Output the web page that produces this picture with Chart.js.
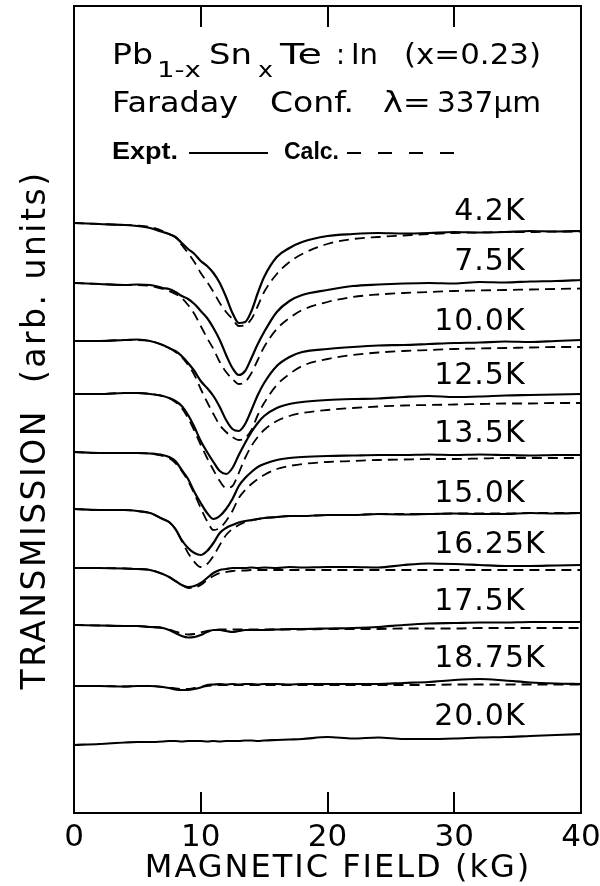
<!DOCTYPE html>
<html>
<head>
<meta charset="utf-8">
<title>Pb1-xSnxTe:In transmission vs magnetic field</title>
<script src="https://cdn.jsdelivr.net/npm/chart.js@4/dist/chart.umd.min.js"></script>
<style>
  html, body { margin: 0; padding: 0; background: #fff; }
  #wrap { width: 600px; height: 886px; }
</style>
</head>
<body>
<div id="wrap"><canvas id="chart" width="600" height="886"></canvas></div>
<script>
// Magnetic field grid (kG) shared by every trace
const field = [0, 2, 4, 5, 6, 7, 7.5, 8, 8.5, 9, 9.5, 10, 10.5, 11, 11.5, 12, 12.5, 13, 13.5, 14,
               14.5, 15, 16, 17, 18, 20, 22, 24, 26, 28, 30, 32, 34, 36, 38, 40];

// Temperatures of the traces, top to bottom
const temperatures = ['4.2K', '7.5K', '10.0K', '12.5K', '13.5K', '15.0K', '16.25K', '17.5K', '18.75K', '20.0K'];

// Field ticks along the axis
const fieldTicks = [0, 10, 20, 30, 40];

// Measured transmission (arb. units, traces offset vertically)
const expt4_2K   = [59.0, 58.9, 58.8, 58.7, 58.5, 58.1, 57.9, 57.6, 57.0, 56.4, 55.9, 55.2, 54.7, 54.0, 53.0, 51.6, 50.0, 49.0, 49.1, 50.2, 52.0, 53.6, 55.6, 56.5, 57.1, 57.7, 57.9, 58.0, 57.95, 58.0, 58.1, 58.05, 58.1, 58.2, 58.15, 58.2];
const expt7_5K   = [53.0, 52.9, 52.8, 52.85, 52.8, 52.5, 52.4, 52.1, 51.7, 51.4, 50.9, 50.2, 49.5, 48.5, 47.3, 45.8, 44.5, 43.8, 44.2, 45.5, 46.9, 48.1, 50.1, 51.2, 51.8, 52.3, 52.7, 52.85, 52.95, 53.0, 52.95, 53.1, 53.05, 53.15, 53.2, 53.3];
const expt10_0K  = [47.2, 47.2, 47.3, 47.35, 47.2, 46.8, 46.5, 46.2, 45.7, 45.0, 44.2, 43.2, 42.5, 41.7, 40.6, 39.3, 38.4, 38.2, 38.9, 40.3, 41.8, 43.0, 44.7, 45.6, 46.1, 46.4, 46.6, 46.75, 46.8, 46.9, 47.0, 47.05, 47.15, 47.1, 47.2, 47.3];
const expt12_5K  = [41.9, 41.9, 42.0, 42.0, 41.9, 41.7, 41.5, 41.2, 40.7, 39.8, 38.6, 37.2, 36.1, 35.1, 34.2, 33.9, 34.5, 35.8, 37.0, 38.1, 39.0, 39.7, 40.5, 40.9, 41.1, 41.3, 41.4, 41.45, 41.6, 41.7, 41.6, 41.65, 41.75, 41.8, 41.85, 41.9];
const expt13_5K  = [36.1, 36.0, 36.0, 36.0, 35.95, 35.8, 35.6, 35.2, 34.3, 33.4, 32.1, 31.0, 30.0, 29.4, 29.7, 30.4, 31.4, 32.7, 33.5, 34.1, 34.6, 34.9, 35.3, 35.5, 35.6, 35.7, 35.75, 35.8, 35.8, 35.85, 35.8, 35.85, 35.8, 35.75, 35.8, 35.8];
const expt15_0K  = [30.4, 30.3, 30.3, 30.2, 30.0, 29.4, 29.1, 28.4, 27.3, 26.5, 26.0, 25.8, 26.2, 27.0, 28.0, 28.5, 28.8, 29.05, 29.2, 29.3, 29.4, 29.5, 29.6, 29.7, 29.7, 29.8, 29.8, 29.9, 29.85, 29.9, 29.95, 29.9, 29.9, 30.0, 29.95, 30.0];
const expt16_25K = [24.5, 24.5, 24.45, 24.4, 24.3, 23.9, 23.6, 23.2, 22.8, 22.6, 22.7, 23.0, 23.5, 24.0, 24.3, 24.4, 24.5, 24.5, 24.5, 24.55, 24.5, 24.55, 24.5, 24.6, 24.55, 24.6, 24.6, 24.55, 24.8, 24.95, 24.9, 24.8, 24.7, 24.7, 24.75, 24.8];
const expt17_5K  = [18.8, 18.75, 18.7, 18.7, 18.6, 18.5, 18.3, 18.0, 17.7, 17.55, 17.6, 17.8, 18.1, 18.3, 18.3, 18.2, 18.1, 18.2, 18.3, 18.3, 18.3, 18.3, 18.35, 18.4, 18.4, 18.45, 18.5, 18.6, 18.8, 18.95, 19.0, 19.05, 19.05, 19.1, 19.1, 19.1];
const expt18_75K = [12.7, 12.7, 12.65, 12.7, 12.7, 12.6, 12.5, 12.35, 12.3, 12.3, 12.4, 12.55, 12.8, 12.85, 12.9, 12.85, 12.9, 12.85, 12.9, 12.9, 12.85, 12.9, 12.9, 12.85, 12.9, 12.9, 12.9, 12.9, 13.0, 13.1, 13.3, 13.4, 13.25, 13.05, 12.95, 12.9];
const expt20_0K  = [6.8, 6.9, 7.05, 7.1, 7.1, 7.15, 7.2, 7.2, 7.15, 7.2, 7.2, 7.2, 7.15, 7.2, 7.15, 7.2, 7.2, 7.2, 7.25, 7.25, 7.2, 7.25, 7.3, 7.35, 7.4, 7.6, 7.45, 7.55, 7.4, 7.4, 7.45, 7.55, 7.6, 7.7, 7.8, 7.9];

// Calculated transmission (same offsets)
const calc4_2K   = [59.0, 58.9, 58.8, 58.75, 58.6, 58.2, 57.9, 57.6, 56.8, 56.0, 55.1, 54.0, 53.1, 52.1, 51.0, 50.1, 49.4, 48.7, 48.8, 49.4, 50.7, 52.1, 53.9, 55.1, 55.9, 56.9, 57.4, 57.6, 57.75, 57.9, 58.0, 58.05, 58.1, 58.1, 58.15, 58.15];
const calc7_5K   = [53.0, 52.9, 52.8, 52.8, 52.7, 52.4, 52.2, 51.9, 51.5, 50.8, 49.9, 48.7, 47.5, 46.4, 45.1, 44.1, 43.4, 42.9, 43.1, 44.0, 45.3, 46.6, 48.4, 49.5, 50.3, 51.1, 51.6, 51.85, 52.0, 52.1, 52.2, 52.25, 52.3, 52.35, 52.4, 52.45];
const calc10_0K  = [47.2, 47.2, 47.3, 47.3, 47.2, 46.8, 46.5, 46.1, 45.6, 44.8, 43.8, 42.4, 41.1, 39.9, 38.8, 38.1, 37.6, 37.3, 37.5, 38.3, 39.8, 41.0, 42.8, 43.9, 44.7, 45.4, 45.8, 46.05, 46.2, 46.3, 46.4, 46.45, 46.5, 46.55, 46.6, 46.6];
const calc12_5K  = [41.9, 41.9, 42.0, 42.0, 41.9, 41.7, 41.5, 41.1, 40.5, 39.5, 38.2, 36.8, 35.5, 34.3, 33.2, 32.5, 32.7, 34.0, 35.5, 36.7, 37.6, 38.3, 39.2, 39.7, 40.0, 40.3, 40.5, 40.65, 40.75, 40.8, 40.85, 40.9, 40.95, 40.95, 41.0, 41.0];
const calc13_5K  = [36.1, 36.0, 36.0, 36.0, 35.95, 35.7, 35.5, 35.0, 34.2, 33.2, 31.9, 30.5, 29.2, 28.3, 28.5, 29.2, 30.2, 31.5, 32.3, 32.9, 33.4, 33.8, 34.4, 34.7, 34.9, 35.1, 35.2, 35.3, 35.35, 35.4, 35.4, 35.45, 35.5, 35.5, 35.5, 35.5];
const calc15_0K  = [30.4, 30.3, 30.3, 30.2, 30.0, 29.4, 29.1, 28.4, 27.2, 26.0, 25.1, 24.6, 24.9, 25.7, 26.8, 27.8, 28.4, 28.8, 29.1, 29.25, 29.4, 29.5, 29.6, 29.7, 29.7, 29.8, 29.8, 29.9, 29.9, 29.9, 29.95, 29.95, 29.95, 30.0, 30.0, 30.0];
const calc16_25K = [24.5, 24.5, 24.45, 24.4, 24.3, 23.9, 23.6, 23.2, 22.8, 22.5, 22.55, 22.8, 23.3, 23.7, 24.0, 24.1, 24.2, 24.25, 24.25, 24.3, 24.3, 24.3, 24.3, 24.3, 24.3, 24.3, 24.3, 24.3, 24.3, 24.3, 24.3, 24.3, 24.3, 24.3, 24.3, 24.3];
const calc17_5K  = [18.8, 18.75, 18.7, 18.7, 18.6, 18.5, 18.35, 18.15, 17.95, 17.85, 17.9, 18.05, 18.2, 18.3, 18.35, 18.35, 18.35, 18.35, 18.35, 18.35, 18.35, 18.35, 18.35, 18.35, 18.35, 18.4, 18.4, 18.4, 18.45, 18.45, 18.45, 18.5, 18.5, 18.5, 18.5, 18.5];
const calc18_75K = [12.7, 12.7, 12.65, 12.7, 12.7, 12.6, 12.55, 12.45, 12.4, 12.4, 12.5, 12.6, 12.7, 12.75, 12.8, 12.8, 12.8, 12.8, 12.8, 12.8, 12.8, 12.8, 12.8, 12.8, 12.8, 12.8, 12.8, 12.8, 12.8, 12.8, 12.85, 12.85, 12.85, 12.85, 12.85, 12.85];

const exptSeries = [expt4_2K, expt7_5K, expt10_0K, expt12_5K, expt13_5K, expt15_0K, expt16_25K, expt17_5K, expt18_75K, expt20_0K];
const calcSeries = [calc4_2K, calc7_5K, calc10_0K, calc12_5K, calc13_5K, calc15_0K, calc16_25K, calc17_5K, calc18_75K, null];

// Field (kG) where the decimal points of the temperature labels line up
const labelField = 32;

const FONT = '"DejaVu Sans", "Liberation Sans", sans-serif';
const toPoints = arr => field.map((b, i) => ({ x: b, y: arr[i] }));

const datasets = [];
temperatures.forEach((t, i) => {
  if (calcSeries[i]) {
    datasets.push({
      label: 'Calc. ' + t, data: toPoints(calcSeries[i]),
      borderColor: '#000', borderWidth: 1.8, borderDash: [10, 6],
      pointRadius: 0, fill: false, cubicInterpolationMode: 'monotone'
    });
  }
  datasets.push({
    label: 'Expt. ' + t, data: toPoints(exptSeries[i]),
    borderColor: '#000', borderWidth: 2.2, pointRadius: 0, fill: false,
    cubicInterpolationMode: 'monotone'
  });
});

function setSpacing(ctx, px) { if ('letterSpacing' in ctx) ctx.letterSpacing = px + 'px'; }

// Draw a text run stretched horizontally so it spans `w` pixels
function fitText(ctx, s, x, y, w) {
  const m = ctx.measureText(s).width;
  ctx.save();
  ctx.translate(x, y);
  ctx.scale(w / m, 1);
  ctx.fillText(s, 0, 0);
  ctx.restore();
}

// Inward ticks, temperature labels, header and axis titles
const annotations = {
  id: 'annotations',
  afterDraw(chart) {
    const { ctx, chartArea: a } = chart;
    const xs = chart.scales.x, ys = chart.scales.y;
    ctx.save();
    ctx.fillStyle = '#000';
    ctx.strokeStyle = '#000';

    // ticks pointing into the frame, top and bottom
    ctx.lineWidth = 2;
    fieldTicks.filter(v => v > xs.min && v < xs.max).forEach(v => {
      const px = Math.round(xs.getPixelForValue(v));
      ctx.beginPath();
      ctx.moveTo(px, a.bottom); ctx.lineTo(px, a.bottom - 21);
      ctx.moveTo(px, a.top);    ctx.lineTo(px, a.top + 21);
      ctx.stroke();
    });

    // temperature labels, decimal points aligned
    const li = field.indexOf(labelField);
    const xDec = xs.getPixelForValue(labelField);
    ctx.font = '30px ' + FONT;
    setSpacing(ctx, 1);
    ctx.textBaseline = 'middle';
    ctx.textAlign = 'left';
    temperatures.forEach((t, i) => {
      const yc = ys.getPixelForValue(exptSeries[i][li]) - 20;
      const pre = t.split('.')[0];
      const wPre = ctx.measureText(pre).width;
      const wDot = ctx.measureText('.').width;
      ctx.fillText(t, xDec - wPre - wDot / 2, yc);
    });

    // header, line 1: Pb1-xSnxTe : In (x=0.23)
    ctx.textBaseline = 'alphabetic';
    setSpacing(ctx, 0);
    const big = '29px ' + FONT, sub = '22px ' + FONT;
    const parts1 = [['Pb', big, 112, 64, 41], ['1-x', sub, 157, 77, 44], ['Sn', big, 209, 64, 43], ['x', sub, 258, 77, 15],
                    ['Te', big, 280, 64, 42], [':', big, 336, 64, 9], ['In', big, 351, 64, 27], ['(x=0.23)', big, 404, 64, 137]];
    parts1.forEach(([s, f, x, y, w]) => { ctx.font = f; fitText(ctx, s, x, y, w); });

    // header, line 2
    ctx.font = big;
    fitText(ctx, 'Faraday', 112, 112, 126);
    fitText(ctx, 'Conf.', 270, 112, 84);
    fitText(ctx, '\u03bb=', 383, 112, 48);
    fitText(ctx, '337\u03bcm', 437, 112, 104);

    // header, line 3: legend
    ctx.font = 'bold 23px "Liberation Sans", Arial, sans-serif';
    fitText(ctx, 'Expt.', 112, 159, 66);
    fitText(ctx, 'Calc.', 284, 159, 55);
    ctx.lineWidth = 2;
    ctx.beginPath(); ctx.moveTo(189, 153); ctx.lineTo(268, 153); ctx.stroke();
    ctx.setLineDash([14, 17]);
    ctx.beginPath(); ctx.moveTo(347, 153); ctx.lineTo(454, 153); ctx.stroke();
    ctx.setLineDash([]);

    // x axis title
    ctx.font = '32px ' + FONT;
    setSpacing(ctx, 2);
    ctx.textAlign = 'center';
    ctx.fillText('MAGNETIC FIELD (kG)', 338, 877);

    // y axis title, rotated
    ctx.translate(45, 430);
    ctx.rotate(-Math.PI / 2);
    ctx.font = '33px ' + FONT;
    setSpacing(ctx, 2.5);
    ctx.textAlign = 'center';
    ctx.textBaseline = 'alphabetic';
    ctx.fillText('TRANSMISSION  (arb. units)', 0, 0);
    ctx.restore();
  }
};

new Chart(document.getElementById('chart'), {
  type: 'line',
  data: { datasets },
  options: {
    responsive: false,
    animation: false,
    devicePixelRatio: 1,
    layout: { padding: 0 },
    plugins: { legend: { display: false }, tooltip: { enabled: false }, title: { display: false } },
    scales: {
      x: {
        type: 'linear', position: 'bottom', min: 0, max: 40,
        afterBuildTicks: s => { s.ticks = fieldTicks.map(v => ({ value: v })); },
        ticks: { color: '#000', font: { family: FONT, size: 31 }, padding: 6, maxRotation: 0, autoSkip: false },
        grid: { display: false, drawTicks: false },
        border: { display: true, color: '#000', width: 2 },
        afterFit: s => { s.height = 73; s.paddingLeft = 0; s.paddingRight = 0; }
      },
      xTop: {
        type: 'linear', position: 'top', min: 0, max: 40,
        ticks: { display: false }, grid: { display: false, drawTicks: false },
        border: { display: true, color: '#000', width: 2 },
        afterFit: s => { s.height = 6; s.paddingLeft = 0; s.paddingRight = 0; }
      },
      y: {
        type: 'linear', position: 'left', min: 0, max: 80.7,
        ticks: { display: false }, grid: { display: false, drawTicks: false },
        border: { display: true, color: '#000', width: 2 },
        afterFit: s => { s.width = 74; }
      },
      yRight: {
        type: 'linear', position: 'right', min: 0, max: 80.7,
        ticks: { display: false }, grid: { display: false, drawTicks: false },
        border: { display: true, color: '#000', width: 2 },
        afterFit: s => { s.width = 19; }
      }
    }
  },
  plugins: [annotations]
});
</script>
</body>
</html>
